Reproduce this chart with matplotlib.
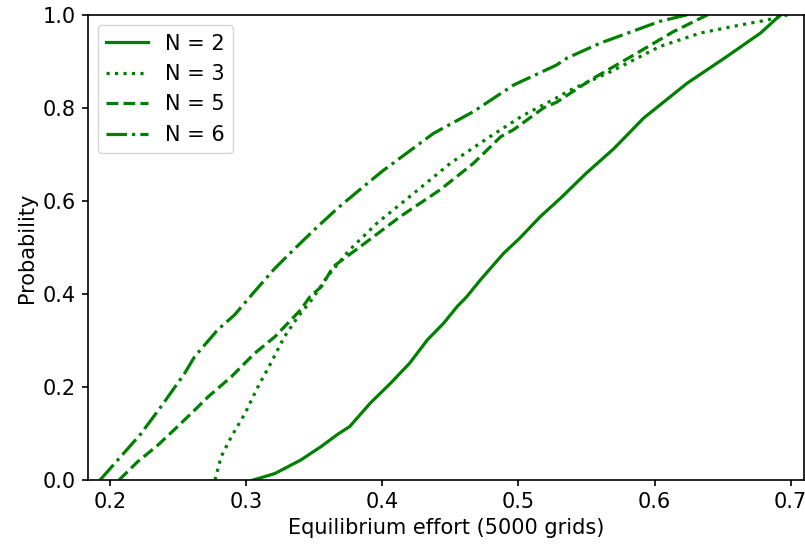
import matplotlib
matplotlib.use('Agg')
import matplotlib.pyplot as plt

# values (effort, cumulative probability)
x_n2 = [0.305, 0.321, 0.340, 0.355, 0.367, 0.376, 0.391, 0.406, 0.420, 0.433, 0.445,
        0.455, 0.462, 0.472, 0.489, 0.501, 0.516, 0.531, 0.550, 0.570, 0.592, 0.624,
        0.653, 0.678, 0.690, 0.693]
y_n2 = [0.0, 0.014, 0.043, 0.072, 0.098, 0.115, 0.165, 0.208, 0.251, 0.301, 0.337,
        0.373, 0.394, 0.430, 0.487, 0.520, 0.566, 0.606, 0.660, 0.712, 0.778, 0.853,
        0.910, 0.961, 0.993, 1.0]

x_n3 = [0.277, 0.2815, 0.289, 0.299, 0.3085, 0.318, 0.328, 0.338, 0.348, 0.359, 0.376,
        0.396, 0.420, 0.450, 0.479, 0.503, 0.531, 0.5357, 0.568, 0.604, 0.634, 0.663,
        0.683, 0.698]
y_n3 = [0.0, 0.05, 0.093, 0.143, 0.20, 0.251, 0.308, 0.351, 0.387, 0.435, 0.495,
        0.552, 0.609, 0.681, 0.738, 0.783, 0.826, 0.835, 0.878, 0.932, 0.961, 0.978,
        0.989, 1.0]

x_n5 = [0.2065, 0.220, 0.235, 0.247, 0.2595, 0.272, 0.289, 0.306, 0.321, 0.340, 0.347,
        0.355, 0.364, 0.3885, 0.413, 0.4425, 0.467, 0.487, 0.4964, 0.5185, 0.528,
        0.553, 0.585, 0.614, 0.639]
y_n5 = [0.0, 0.039, 0.075, 0.108, 0.143, 0.179, 0.222, 0.272, 0.308, 0.366, 0.395,
        0.415, 0.459, 0.512, 0.566, 0.624, 0.681, 0.738, 0.753, 0.80, 0.812,
        0.86, 0.914, 0.964, 1.0]

x_n6 = [0.1925, 0.2055, 0.2227, 0.2374, 0.2546, 0.262, 0.279, 0.2914, 0.306, 0.321,
        0.3355, 0.350, 0.3674, 0.385, 0.400, 0.4375, 0.467, 0.4866, 0.4964, 0.528,
        0.5357, 0.560, 0.604, 0.624]
y_n6 = [0.0, 0.043, 0.10, 0.158, 0.229, 0.265, 0.323, 0.355, 0.405, 0.455,
        0.497, 0.538, 0.585, 0.628, 0.664, 0.745, 0.792, 0.830, 0.849, 0.892,
        0.907, 0.939, 0.986, 1.0]

fig = plt.figure(figsize=(8.05, 5.48), dpi=100)
ax = fig.add_axes([0.109, 0.124, 0.890, 0.849])

lw = 2.3
ax.plot(x_n2, y_n2, color='green', linestyle='-', linewidth=lw, label='N = 2')
ax.plot(x_n3, y_n3, color='green', linestyle=':', linewidth=lw, label='N = 3')
ax.plot(x_n5, y_n5, color='green', linestyle='--', linewidth=lw, label='N = 5')
ax.plot(x_n6, y_n6, color='green', linestyle='-.', linewidth=lw, label='N = 6')

fs = 15
ax.set_xlim(0.1835, 0.710)
ax.set_ylim(0, 1.0)
ax.set_xticks([0.2, 0.3, 0.4, 0.5, 0.6, 0.7])
ax.set_yticks([0.0, 0.2, 0.4, 0.6, 0.8, 1.0])
ax.tick_params(labelsize=fs, length=4.2, width=1.2, pad=4.5)
for s in ax.spines.values():
    s.set_linewidth(1.2)
ax.set_xlabel('Equilibrium effort (5000 grids)', fontsize=fs)
ax.set_ylabel('Probability', fontsize=fs)
ax.legend(loc='upper left', fontsize=fs, handlelength=2.0)

fig.savefig('out.png', dpi=100)
